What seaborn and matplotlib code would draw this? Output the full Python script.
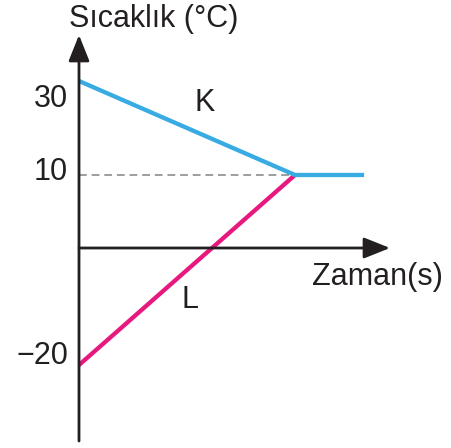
import numpy as np
import matplotlib
matplotlib.use("Agg")
import matplotlib.pyplot as plt
import seaborn as sns
import pandas as pd

# --- Datos del grafico (esquematico) ---
tiempo_k = [0, 10, 13.2]
sicaklik_k = [30, 10, 10]
tiempo_l = [0, 10]
sicaklik_l = [-20, 10]
tiempo_denge = 10
sicaklik_denge = 10
etiketas_y = [30, 10, -20]
etiketas_txt = ["30", "10", "\u221220"]

# escala esquematica del eje y (valor -> pixel desde arriba)
escala_val = [-100, -20, 0, 10, 30, 100]
escala_pix = [833, 365, 248, 175, 81, -248]

color_k = "#38ace2"
color_l = "#e8197e"
color_eje = "#231f20"
W, H = 452, 448


def adelante(v):
    return -np.interp(v, escala_val, escala_pix)


def atras(u):
    return np.interp(-np.asarray(u), escala_pix[::-1], escala_val[::-1])


sns.set_theme(style="white")
plt.rcParams["font.family"] = ["Liberation Sans", "DejaVu Sans"]

fig = plt.figure(figsize=(W / 100, H / 100), dpi=100)
ax = fig.add_axes([0, 0, 1, 1])
ax.set_yscale("function", functions=(adelante, atras))

px_por_t = 21.6
x0 = 79
ax.set_xlim(-x0 / px_por_t, (W - x0) / px_por_t)
ax.set_ylim(atras(-448), atras(0))
ax.axis("off")

df_k = pd.DataFrame({"t": tiempo_k, "T": sicaklik_k})
df_l = pd.DataFrame({"t": tiempo_l, "T": sicaklik_l})
sns.lineplot(data=df_l, x="t", y="T", ax=ax, color=color_l, lw=3.1, sort=False,
             solid_capstyle="butt", zorder=3)
sns.lineplot(data=df_k, x="t", y="T", ax=ax, color=color_k, lw=3.1, sort=False,
             solid_capstyle="butt", zorder=4)

# linea de equilibrio punteada
ax.plot([0, tiempo_denge], [sicaklik_denge, sicaklik_denge], color="#9d9d9d",
        lw=1.4, dashes=(4, 2.5), zorder=2)

# ejes con flechas
flecha = dict(arrowstyle="-|>,head_length=0.8,head_width=0.32", mutation_scale=20,
              lw=2.0, color=color_eje, shrinkA=0, shrinkB=0)
ax.annotate("", xy=(0, 1 - 35 / H), xytext=(0, 1 - 441 / H),
            xycoords=ax.get_xaxis_transform(), arrowprops=flecha, zorder=5)
ax.annotate("", xy=((390 - x0) / px_por_t, 0), xytext=(0, 0),
            xycoords="data", arrowprops=flecha, zorder=5)

# etiquetas del eje y (desplazadas como en el original)
desplaz = [-18, 3, 9]
for v, txt, d in zip(etiketas_y, etiketas_txt, desplaz):
    ax.annotate(txt, xy=(68 / W, v), xycoords=ax.get_yaxis_transform(),
                xytext=(0, d * 0.72), textcoords="offset points",
                ha="right", va="center", fontsize=22, color=color_eje)

fig.text(154 / W, 1 - 19 / H, "S\u0131cakl\u0131k (\u00b0C)", ha="center", va="center",
         fontsize=22, color=color_eje)
fig.text(377 / W, 1 - 277 / H, "Zaman(s)", ha="center", va="center",
         fontsize=22, color=color_eje)
fig.text(205 / W, 1 - 103 / H, "K", ha="center", va="center", fontsize=22, color=color_eje)
fig.text(190 / W, 1 - 300 / H, "L", ha="center", va="center", fontsize=22, color=color_eje)

fig.savefig("out.png", dpi=100, facecolor="white")
